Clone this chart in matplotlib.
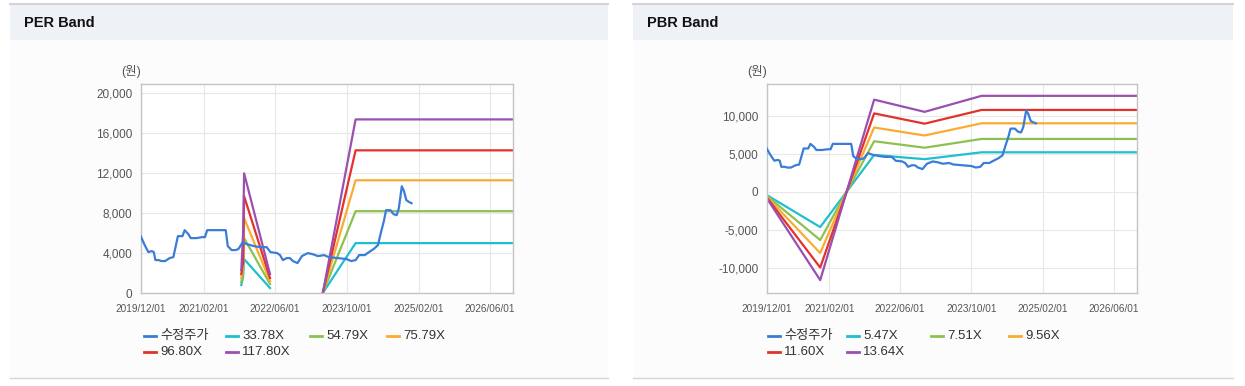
import numpy as np
import pandas as pd
import matplotlib
matplotlib.use('Agg')
import matplotlib.pyplot as plt
from matplotlib.patches import Rectangle
from matplotlib.lines import Line2D

plt.rcParams['font.family'] = ['Liberation Sans', 'Noto Sans CJK KR', 'DejaVu Sans']

# ---- data -------------------------------------------------------------
price_dates = [
    '2019-12-01', '2019-12-25', '2020-01-22', '2020-02-15', '2020-02-28',
    '2020-03-10', '2020-04-01', '2020-04-20', '2020-05-15', '2020-06-15',
    '2020-07-10', '2020-08-10', '2020-09-10', '2020-09-25', '2020-10-20',
    '2020-11-05', '2020-12-15', '2021-01-20', '2021-02-10', '2021-02-25',
    '2021-07-01', '2021-07-15', '2021-08-10', '2021-09-05', '2021-09-25',
    '2021-10-25', '2021-11-20', '2022-01-10', '2022-02-15', '2022-04-05',
    '2022-05-01', '2022-06-15', '2022-07-05', '2022-07-25', '2022-08-20',
    '2022-09-10', '2022-10-01', '2022-11-01', '2022-12-01', '2023-01-10',
    '2023-02-10', '2023-03-20', '2023-05-01', '2023-06-01', '2023-08-01',
    '2023-10-01', '2023-11-01', '2023-12-01', '2023-12-25', '2024-02-01',
    '2024-03-01', '2024-04-01', '2024-05-01', '2024-05-20', '2024-06-10',
    '2024-06-25', '2024-07-25', '2024-08-15', '2024-09-05', '2024-09-20',
    '2024-10-10', '2024-10-25', '2024-11-10', '2024-12-01', '2024-12-15',
]
price = [
    5700, 4900, 4100, 4200, 4100,
    3300, 3300, 3200, 3200, 3500,
    3600, 5700, 5700, 6300, 5900,
    5500, 5500, 5600, 5600, 6300,
    6300, 4700, 4300, 4300, 4400,
    5100, 4900, 4700, 4600, 4600,
    4100, 4000, 3800, 3300, 3500,
    3500, 3200, 3000, 3700, 4000,
    3900, 3700, 3800, 3600, 3500,
    3400, 3200, 3300, 3800, 3800,
    4100, 4400, 4800, 6000, 7200,
    8300, 8300, 7900, 7800, 8500,
    10700, 10200, 9300, 9100, 9000,
]

per_dates = ['2021-10-15', '2021-10-27', '2021-11-03', '2022-04-28',
             '2022-04-29', '2023-04-22', '2023-12-01', '2026-11-05']
per_labels = ['33.78X', '54.79X', '75.79X', '96.80X', '117.80X']
per_338 = [800, 1600, 3400, 500, np.nan, 0, 5000, 5000]
per_548 = [1100, 2100, 5500, 900, np.nan, 0, 8200, 8200]
per_758 = [1500, 2600, 7500, 1200, np.nan, 0, 11300, 11300]
per_968 = [1900, 3100, 9700, 1500, np.nan, 0, 14300, 14300]
per_1178 = [2300, 5900, 12000, 1900, np.nan, 0, 17400, 17400]

pbr_dates = ['2019-12-01', '2020-12-01', '2021-12-05', '2022-11-15',
             '2023-12-10', '2026-11-05']
pbr_labels = ['5.47X', '7.51X', '9.56X', '11.60X', '13.64X']
pbr_547 = [-400, -4600, 4850, 4300, 5200, 5200]
pbr_751 = [-500, -6300, 6650, 5800, 6950, 6950]
pbr_956 = [-600, -8000, 8450, 7400, 9000, 9000]
pbr_1160 = [-700, -9900, 10300, 8950, 10750, 10750]
pbr_1364 = [-800, -11550, 12100, 10500, 12600, 12600]

tick_dates = ['2019-12-01', '2021-02-01', '2022-06-01', '2023-10-01',
              '2025-02-01', '2026-06-01']

# ---- style ------------------------------------------------------------
W, H = 1245, 386
c_price = '#3a7dd8'
band_colors = ['#1fbfd0', '#8cc152', '#f9ac30', '#e3312c', '#9b4fb0']
grey = '#555555'

fig = plt.figure(figsize=(W / 100, H / 100), dpi=100)
fig.patch.set_facecolor('white')


def fx(x):
    return x / W


def fy(y):
    return 1 - y / H


def panel(x0, x1, title):
    fig.add_artist(Rectangle((fx(x0), fy(378)), fx(x1 - x0), (378 - 40) / H,
                             transform=fig.transFigure, fc='#fcfcfd', ec='none', zorder=0))
    fig.add_artist(Rectangle((fx(x0), fy(40)), fx(x1 - x0), 36 / H,
                             transform=fig.transFigure, fc='#eef2f7', ec='none', zorder=0))
    fig.add_artist(Line2D([fx(x0), fx(x1)], [fy(4), fy(4)], transform=fig.transFigure,
                          color='#d4d4d4', lw=1.5))
    fig.add_artist(Line2D([fx(x0), fx(x1)], [fy(378), fy(378)], transform=fig.transFigure,
                          color='#d4d4d4', lw=1))
    fig.text(fx(x0 + 14), fy(23), title, fontsize=10.5, fontweight='bold',
             color='#111111', va='center', ha='left')


def make_axes(left, right, top, bottom):
    ax = fig.add_axes([fx(left), fy(bottom), fx(right - left), (bottom - top) / H])
    ax.set_facecolor('white')
    for s in ax.spines.values():
        s.set_color('#c4c4c4')
        s.set_linewidth(1)
    ax.grid(color='#e8e8e8', lw=0.8)
    ax.set_axisbelow(True)
    ax.tick_params(length=0, labelcolor=grey)
    ax.tick_params(axis='y', labelsize=8.5, pad=6)
    ax.tick_params(axis='x', labelsize=7.2, pad=8)
    ticks = pd.to_datetime(tick_dates)
    ax.set_xticks(ticks)
    ax.set_xticklabels([t.strftime('%Y/%m/%d') for t in ticks])
    ax.set_xlim(pd.Timestamp('2019-12-01'), pd.Timestamp('2026-11-05'))
    return ax


def legend(x_cols, y_rows, items):
    for (label, color), (col, row) in items:
        x = x_cols[col]
        y = y_rows[row]
        fig.add_artist(Line2D([fx(x), fx(x + 12)], [fy(y), fy(y)],
                              transform=fig.transFigure, color=color, lw=2))
        fig.text(fx(x + 16), fy(y), label, fontsize=9.5, color='#333333',
                 va='center', ha='left')


pdates = pd.to_datetime(price_dates)

# ---- PER panel ----------------------------------------------------------
panel(10, 608, 'PER Band')
ax1 = make_axes(140.7, 513, 84, 293)
d = pd.to_datetime(per_dates)
for vals, col in zip([per_338, per_548, per_758, per_968, per_1178], band_colors):
    ax1.plot(d, vals, color=col, lw=1.6)
ax1.plot(pdates, price, color=c_price, lw=1.6, zorder=5)
ax1.set_ylim(0, 20950)
ax1.set_yticks(range(0, 20001, 4000))
ax1.yaxis.set_major_formatter(matplotlib.ticker.FuncFormatter(lambda v, p: f'{int(v):,}'))
fig.text(fx(121), fy(72), '(원)', fontsize=9, color=grey, va='center', ha='left')

legend([144, 226, 310, 387], [336, 352],
       zip([('수정주가', c_price)] + list(zip(per_labels, band_colors)),
           [(0, 0), (1, 0), (2, 0), (3, 0), (0, 1), (1, 1)]))

# ---- PBR panel ----------------------------------------------------------
panel(633, 1233, 'PBR Band')
ax2 = make_axes(766.7, 1136.7, 84, 292.7)
d = pd.to_datetime(pbr_dates)
for vals, col in zip([pbr_547, pbr_751, pbr_956, pbr_1160, pbr_1364], band_colors):
    ax2.plot(d, vals, color=col, lw=1.6)
ax2.plot(pdates, price, color=c_price, lw=1.6, zorder=5)
ax2.set_ylim(-13200, 14150)
ax2.set_yticks(range(-10000, 10001, 5000))
ax2.yaxis.set_major_formatter(matplotlib.ticker.FuncFormatter(lambda v, p: f'{int(v):,}'))
fig.text(fx(747), fy(72), '(원)', fontsize=9, color=grey, va='center', ha='left')

legend([768, 847, 931, 1009], [336, 352],
       zip([('수정주가', c_price)] + list(zip(pbr_labels, band_colors)),
           [(0, 0), (1, 0), (2, 0), (3, 0), (0, 1), (1, 1)]))

fig.savefig('out.png', dpi=100)
